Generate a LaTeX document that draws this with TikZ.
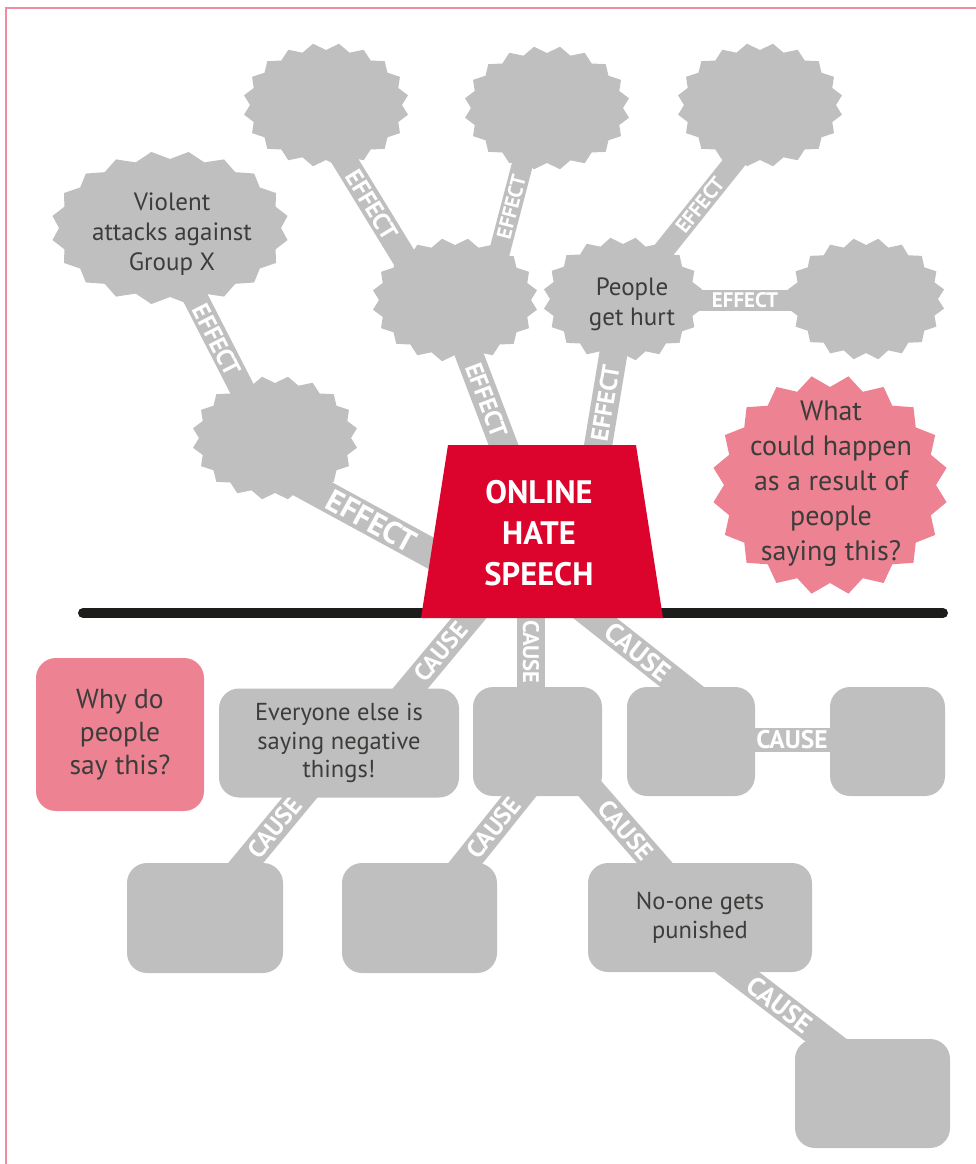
\documentclass[tikz,border=0pt]{standalone}
\usepackage{fontspec}
\setmainfont{PT Sans}
\definecolor{shapegray}{RGB}{191,191,191}
\definecolor{hotpink}{RGB}{237,130,146}
\definecolor{hsred}{RGB}{220,4,44}
\definecolor{linedark}{RGB}{29,29,27}
\definecolor{txtgray}{RGB}{60,60,59}
\definecolor{borderpink}{RGB}{240,140,160}
% starburst: centre x, centre y, radius x, radius y, spike depth, fill style
\newcommand\burst[6]{%
  \fill[#6] ({#1+#3*cos(9)},{#2+#4*sin(9)})
    \foreach \k in {1,...,19}{
      -- ({#1+(#3-#5)*cos(18*\k)},{#2+(#4-#5)*sin(18*\k)})
      -- ({#1+#3*cos(18*\k+9)},{#2+#4*sin(18*\k+9)})
    }
    -- ({#1+#3-#5},{#2}) -- cycle;%
}
\begin{document}
\begin{tikzpicture}[x=1pt,y=-1pt,
  bar/.style={draw=shapegray, line width=#1, line cap=butt},
  lbl/.style={text=white, inner sep=0pt, font=\bfseries\fontsize{#1}{#1}\selectfont},
  rbox/.style={fill=shapegray, rounded corners=20pt, inner sep=0pt, text=txtgray,
    align=center, font=\fontsize{24.5}{28.5}\selectfont},
  pbox/.style={rbox, fill=hotpink, font=\fontsize{27.5}{33}\selectfont},
  btxt/.style={text=txtgray, align=center, inner sep=0pt, font=\fontsize{25}{30}\selectfont}]
\useasboundingbox (0,0) rectangle (976,1164);

% page frame
\draw[borderpink, line width=1.5pt] (6,1164) -- (6,8) -- (976,8);

% centres of the starbursts
\coordinate (s1) at (326,105);
\coordinate (s2) at (547,108);
\coordinate (s3) at (760,105);
\coordinate (s5) at (455,300);
\coordinate (s7) at (866,299);
\coordinate (s8) at (275,438);

% ends of the connector bars
\coordinate (e1a) at (280,471);   \coordinate (e1b) at (460,569);
\coordinate (e2a) at (176,260);   \coordinate (e2b) at (258,420);
\coordinate (e3a) at (456,320);   \coordinate (e3b) at (513,470);
\coordinate (e4a) at (326,130);   \coordinate (e4b) at (424,290);
\coordinate (e5a) at (489.5,290); \coordinate (e5b) at (534,120);
\coordinate (e6a) at (594,470);   \coordinate (e6b) at (619,320);
\coordinate (e7a) at (632,290);   \coordinate (e7b) at (768,120);
\coordinate (e8a) at (640,300);   \coordinate (e8b) at (860,300);
\coordinate (c1a) at (384,720);   \coordinate (c1b) at (484,600);
\coordinate (c2a) at (531,600);   \coordinate (c2b) at (531,720);
\coordinate (c3a) at (572,600);   \coordinate (c3b) at (724,720);
\coordinate (c4a) at (700,740);   \coordinate (c4b) at (880,740);
\coordinate (c5a) at (215,900);   \coordinate (c5b) at (331,760);
\coordinate (c6a) at (436,900);   \coordinate (c6b) at (548,760);
\coordinate (c7a) at (565,760);   \coordinate (c7b) at (687,900);
\coordinate (c8a) at (695,940);   \coordinate (c8b) at (865,1070);

% effect bars
\draw[bar=30pt] (e1a) -- node[lbl=31, sloped, pos=0.51] {EFFECT} (e1b);
\draw[bar=25pt] (e2a) -- node[lbl=24.5, sloped, pos=0.5] {EFFECT} (e2b);
\draw[bar=28pt] (e3a) -- node[lbl=24.5, sloped, pos=0.533] {EFFECT} (e3b);
\draw[bar=25pt] (e4a) -- node[lbl=24.5, sloped, pos=0.469] {EFFECT} (e4b);
\draw[bar=21pt] (e5a) -- node[lbl=20.5, sloped, pos=0.488] {EFFECT} (e5b);
\draw[bar=28pt] (e6a) -- node[lbl=24.5, sloped, pos=0.447] {EFFECT} (e6b);
\draw[bar=21pt] (e7a) -- node[lbl=20.5, sloped, pos=0.5] {EFFECT} (e7b);
\draw[bar=21pt] (e8a) -- node[lbl=21, sloped, pos=0.477] {EFFECT} (e8b);

% cause bars
\draw[bar=27pt] (c1a) -- node[lbl=24.5, sloped, pos=0.567] {CAUSE} (c1b);
\draw[bar=28pt] (c2a) -- node[lbl=22.5, rotate=-90, pos=0.433] {CAUSE} (c2b);
\draw[bar=27pt] (c3a) -- node[lbl=27, sloped, pos=0.433] {CAUSE} (c3b);
\draw[bar=24pt] (c4a) -- node[lbl=25.5, sloped, pos=0.511] {CAUSE} (c4b);
\draw[bar=27pt] (c5a) -- node[lbl=25, sloped, pos=0.514] {CAUSE} (c5b);
\draw[bar=27pt] (c6a) -- node[lbl=25, sloped, pos=0.514] {CAUSE} (c6b);
\draw[bar=27pt] (c7a) -- node[lbl=25, sloped, pos=0.5] {CAUSE} (c7b);
\draw[bar=27pt] (c8a) -- node[lbl=26.5, sloped, pos=0.5] {CAUSE} (c8b);

% dividing line
\coordinate (axisL) at (83,613);
\coordinate (axisR) at (943,613);
\draw[linedark, line width=10pt, line cap=round] (axisL) -- (axisR);

% central block
\fill[hsred] (448,445) -- (636,445) -- (663,618) -- (421,618) -- cycle;
\node[text=white, align=center, inner sep=0pt,
  font=\bfseries\fontsize{32.5}{41}\selectfont] (hate) at (539,533) {ONLINE\\HATE\\SPEECH};

% effect starbursts
\burst{326}{105}{83}{62}{7}{shapegray}
\burst{547}{108}{83}{62}{7}{shapegray}
\burst{760}{105}{83}{62}{7}{shapegray}
\burst{170}{228}{119}{77}{8}{shapegray}
\burst{455}{300}{83}{62}{7}{shapegray}
\burst{623}{299}{80}{62}{7}{shapegray}
\burst{866}{299}{79}{61}{7}{shapegray}
\burst{275}{438}{83}{62}{7}{shapegray}
\burst{830}{485}{118}{110}{12}{hotpink}

\node[btxt] (s4) at (172,234) {Violent\\attacks against\\Group X};
\node[btxt] (s6) at (632,304) {People\\get hurt};
\node[btxt, font=\fontsize{28}{35}\selectfont] (s9) at (831,484)
  {What\\could happen\\as a result of\\people\\saying this?};

% cause boxes
\node[pbox, minimum width=168pt, minimum height=153pt] (why) at (120,734.5) {Why do\\people\\say this?};
\node[rbox, minimum width=240pt, minimum height=109pt] (everyone) at (339,743) {Everyone else is\\saying negative\\things!};
\node[rbox, minimum width=129pt, minimum height=109pt] (midbox) at (537.5,741.5) {};
\node[rbox, minimum width=128pt, minimum height=109pt] (rightbox) at (691,741.5) {};
\node[rbox, minimum width=115pt, minimum height=109pt] (farbox) at (887.5,741.5) {};
\node[rbox, minimum width=156pt, minimum height=110pt] (bot1) at (205,918) {};
\node[rbox, minimum width=155pt, minimum height=110pt] (bot2) at (419.5,918) {};
\node[rbox, minimum width=224pt, minimum height=109pt] (noone) at (700,917.5) {No-one gets\\punished};
\node[rbox, minimum width=155pt, minimum height=109pt] (botright) at (872.5,1093.5) {};
\end{tikzpicture}
\end{document}
